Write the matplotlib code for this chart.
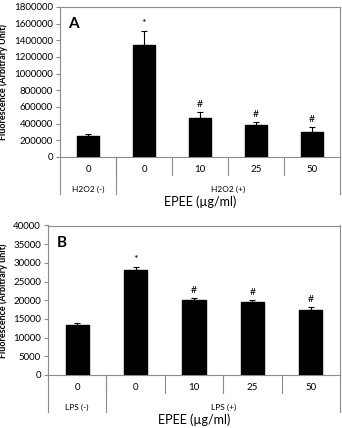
import numpy as np
import matplotlib.pyplot as plt
from matplotlib.transforms import blended_transform_factory

plt.rcParams['font.family'] = ['Lato', 'DejaVu Sans']

doses = ['0', '0', '10', '25', '50']

a_vals = [250000, 1350000, 470000, 385000, 305000]
a_err = [30000, 160000, 65000, 30000, 50000]
a_marks = ['', '*', '#', '#', '#']
a_groups = ['H2O2 (-)', 'H2O2 (+)']

b_vals = [13500, 28200, 20000, 19400, 17500]
b_err = [300, 800, 700, 600, 700]
b_marks = ['', '*', '#', '#', '#']
b_groups = ['LPS (-)', 'LPS (+)']

W, H = 342, 428
fig = plt.figure(figsize=(W / 100, H / 100), dpi=100)
grey = '#8c8c8c'


def panel(rect_px, vals, err, marks, groups, ymax, ystep, ylabel, letter, mark_off):
    x0, top, x1, zero = rect_px
    ax = fig.add_axes([x0 / W, (H - zero) / H, (x1 - x0) / W, (zero - top) / H])
    h = zero - top
    x = np.arange(len(vals))
    ax.bar(x, vals, width=0.4, color='black', edgecolor='black', zorder=3)
    ax.errorbar(x, vals, yerr=[np.zeros(len(vals)), err], fmt='none',
                ecolor='black', elinewidth=0.8, capsize=2.5, capthick=0.8, zorder=4)
    for xi, v, e, m in zip(x, vals, err, marks):
        if m:
            ax.text(xi, v + e + mark_off, m, ha='center', va='bottom', fontsize=7.5)
    ax.set_xlim(-0.5, len(vals) - 0.5)
    ax.set_ylim(0, ymax)
    ax.set_yticks(np.arange(0, ymax + 1, ystep))
    ax.ticklabel_format(axis='y', style='plain', useOffset=False)
    ax.tick_params(axis='y', labelsize=7, length=3, width=0.8, color=grey, pad=2)
    ax.set_xticks([])
    for s in ax.spines.values():
        s.set_color(grey)
        s.set_linewidth(0.8)
    ax.set_ylabel(ylabel, fontsize=6.5, fontweight='bold')
    ax.text(0.03, 0.93, letter, transform=ax.transAxes, fontsize=11,
            fontweight='bold', ha='left', va='top')

    tr = blended_transform_factory(ax.transData, ax.transAxes)
    short = -18 / h
    long_ = -37 / h
    for xs in np.arange(0.5, len(vals) - 1, 1.0):
        ax.plot([xs, xs], [0, short], transform=tr, color=grey, lw=0.8, clip_on=False)
    for xs in [-0.5, 0.5, len(vals) - 0.5]:
        ax.plot([xs, xs], [0, long_], transform=tr, color=grey, lw=0.8, clip_on=False)
    for xi, d in zip(x, doses):
        ax.text(xi, -13 / h, d, transform=tr, ha='center', va='center', fontsize=7)
    ax.text(0, -32 / h, groups[0], transform=tr, ha='center', va='center', fontsize=6)
    ax.text((1 + len(vals) - 1) / 2, -32 / h, groups[1], transform=tr,
            ha='center', va='center', fontsize=6)
    ax.text(0.5, -45 / h, 'EPEE (µg/ml)', transform=ax.transAxes,
            ha='center', va='center', fontsize=9)
    return ax


axA = panel((60, 7, 340, 157), a_vals, a_err, a_marks, a_groups,
            1800000, 200000, 'Fluorescence (Arbitrary Unit)', 'A', 40000)
axA.yaxis.set_label_coords(-52 / 280, 0.5)

axB = panel((48, 225.5, 340, 375), b_vals, b_err, b_marks, b_groups,
            40000, 5000, 'Fluorescence (Arbitrary unit)', 'B', 800)
axB.yaxis.set_label_coords(-40 / 292, 0.5)

fig.savefig('out.png', dpi=100)
